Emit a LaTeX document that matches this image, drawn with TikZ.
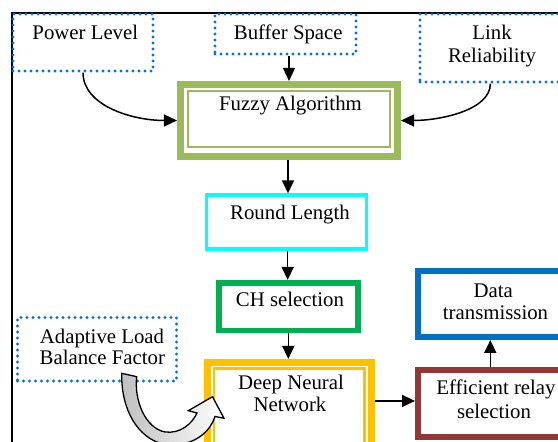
\documentclass[tikz,border=0pt]{standalone}
\usepackage{fontspec}
\setmainfont{Liberation Serif}
\usetikzlibrary{arrows.meta,fit,calc}
\definecolor{dotblue}{RGB}{0,112,240}
\definecolor{fuzzygreen}{RGB}{155,187,89}
\definecolor{cyanc}{RGB}{0,255,255}
\definecolor{chgreen}{RGB}{0,176,80}
\definecolor{dnnorange}{RGB}{255,192,0}
\definecolor{datablue}{RGB}{0,112,192}
\definecolor{effred}{RGB}{148,54,52}
\begin{document}
\begin{tikzpicture}[x=0.5pt,y=-0.5pt,
  lbl/.style={font=\fontsize{10.4}{11.5}\selectfont, inner sep=0pt, anchor=base},
  dotbox/.style={draw=dotblue, line width=1.6pt, line cap=round, dash pattern=on 0pt off 3pt, inner sep=0pt},
  boxx/.style={inner sep=0pt},
  arr/.style={-{Triangle[length=6.5pt,width=6pt]}, line width=0.75pt}]
\clip (0,0) rectangle (558,442);
\fill[white] (0,0) rectangle (558,442);
% outer frame
\draw[line width=0.85pt] (12,470) -- (12,13.3) -- (620,13.3);
% input boxes
\node[dotbox, fit={(13,14) (153,71)}] (power) {};
\node[dotbox, fit={(215,14) (356,54)}] (buffer) {};
\node[dotbox, fit={(420,14) (620,82)}] (link) {};
\node[dotbox, fit={(17.5,317.5) (176.5,381)}] (alb) {};
% fuzzy
\node[boxx, draw=fuzzygreen, line width=3.35pt, fit={(180.3,84.3) (397.7,156.7)}] (fuzzy) {};
\node[boxx, draw=fuzzygreen, line width=1pt, fit={(188.3,91) (389.5,147.5)}] (fuzzyin) {};
% round length
\node[boxx, draw=cyanc, line width=1.65pt, fit={(206.7,195) (366.7,249)}] (round) {};
% CH selection
\node[boxx, draw=chgreen, line width=2.85pt, fit={(218.8,282.8) (357.8,330.5)}] (ch) {};
% DNN
\node[boxx, draw=dnnorange, line width=3.35pt, fit={(207.3,362.3) (371.7,480)}] (dnn) {};
\node[boxx, draw=dnnorange, line width=1.15pt, fit={(213.8,368.5) (364.5,470)}] (dnnin) {};
% data transmission
\node[boxx, draw=datablue, line width=3pt, fit={(418,271.3) (620,337)}] (data) {};
% efficient relay
\node[boxx, draw=effred, line width=3pt, fit={(418,370.3) (620,437)}] (eff) {};
% texts
\node[lbl] (tpower) at (85.3,39.3) {Power Level};
\node[lbl] (tbuffer) at (288.3,39.3) {Buffer Space};
\node[lbl] (tlink1) at (492,39.3) {Link};
\node[lbl] (tlink2) at (492,62.3) {Reliability};
\node[lbl] (tfuzzy) at (290.5,111) {Fuzzy Algorithm};
\node[lbl] (tround) at (290,220) {Round Length};
\node[lbl] (tch) at (290,306.7) {CH selection};
\node[lbl] (tdnn1) at (291,390) {Deep Neural};
\node[lbl] (tdnn2) at (290,411.7) {Network};
\node[lbl] (tdata1) at (493.3,297.3) {Data};
\node[lbl] (tdata2) at (495.5,320) {transmission};
\node[lbl] (teff1) at (496,395) {Efficient relay};
\node[lbl] (teff2) at (494,418.3) {selection};
\node[lbl] (talb1) at (102,343.3) {Adaptive Load};
\node[lbl] (talb2) at (102.3,365) {Balance Factor};
% connectors
\draw[arr] (power.south) .. controls +(0,33) and +(-45,0) .. (fuzzy.west);
\draw[arr] (fuzzy.north |- buffer.south) -- (fuzzy.north);
\draw[arr] ($(link.south west)+(72,0)$) .. controls +(0,27) and +(38,0) .. (fuzzy.east);
\draw[arr] ($(fuzzy.south)+(-1,0)$) -- ($(fuzzy.south |- round.north)+(-1,0)$);
\draw[arr] ($(round.south)+(1,0)$) -- ($(round.south |- ch.north)+(1,0)$);
\draw[arr] (ch.south) -- (ch.south |- dnn.north);
\coordinate (dnnout) at ($(dnn.north east)+(0,42)$);
\draw[arr] (dnnout) -- (dnnout -| eff.west);
\coordinate (effup) at ($(eff.north west)+(75.3,0)$);
\draw[arr] (effup) -- (effup |- data.south);
% block curved arrow from ALB factor to DNN
\shade[left color=gray!50, right color=white, draw=black, line width=0.65pt, line join=miter]
  (121.7,373.3) -- (136.7,376.7)
  .. controls (134,400) and (145,428) .. (165,432)
  .. controls (180,434) and (192,424) .. (197,413)
  -- (188.3,410.7) -- (212.5,396.7) -- (224,418.3) -- (215,416.5)
  .. controls (208,438) and (185,448) .. (163,444)
  .. controls (138,438) and (121,410) .. cycle;
\end{tikzpicture}
\end{document}
